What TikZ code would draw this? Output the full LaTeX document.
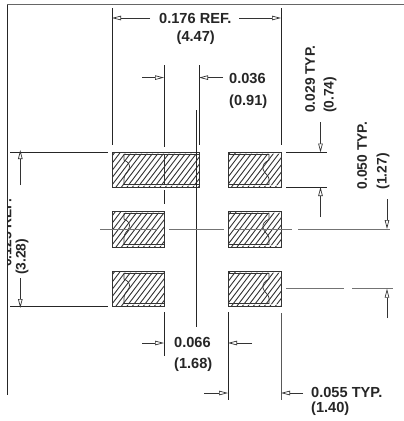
\documentclass[tikz,border=0pt]{standalone}
\usepackage{fontspec}
\usetikzlibrary{arrows.meta}
\newfontfamily\dimfont[BoldFont={Liberation Sans Bold}]{Liberation Sans}
\tikzset{
  ln/.style={line width=0.8pt,black!85},
  glne/.style={line width=0.9pt,black!55},
  dimline/.style={line width=0.7pt,black!80,-{Triangle[open,fill=white,length=9pt,width=4.5pt]}},
  txt/.style={font=\dimfont\bfseries\fontsize{14.6}{15}\selectfont,inner sep=0pt,text=black!85,anchor=west},
  rtxt/.style={font=\dimfont\bfseries\fontsize{13.8}{14}\selectfont,inner sep=0pt,text=black!85,rotate=90,anchor=west},
  hatchline/.style={line width=0.9pt,black!80}
}
\newcommand{\padbox}[5]{%
  \begin{scope}
    \clip (#1,#2) rectangle (#3,#4);
    \foreach \k in {-60,-54.5,...,360}{
      \draw[hatchline] (\k,#4) -- ++(38,-50);
    }
  \end{scope}
  \draw[line width=0.9pt,black!80] (#1,#2) rectangle (#3,#4);
  \fill[white,opacity=0.7] (#1+12,#2+0.6) rectangle (#3-0.5,#2+1.8);
  \fill[white,opacity=0.7] (#1+12,#4-2) rectangle (#3-0.5,#4-0.6);
  #5
}
\newcommand{\leftinner}[3]{%
  \draw[line width=0.7pt,black!80] (#1,#2+2.5) -- (124,#2+2.5) -- (124,#2+8)
    .. controls (128,#2+10) and (131,#2+13) .. (129,#2+17)
    .. controls (127,#2+21) and (124,#2+22) .. (124,#2+27)
    -- (124,#3-2.5) -- (#1,#3-2.5);
}
\newcommand{\rightinner}[3]{%
  \draw[line width=0.7pt,black!80] (#1,#2+2.5) -- (269,#2+2.5) -- (269,#2+8)
    .. controls (265,#2+10) and (262,#2+13) .. (263,#2+17)
    .. controls (264,#2+21) and (269,#2+24) .. (269,#2+27)
    -- (269,#3-2.5) -- (#1,#3-2.5);
}
\begin{document}
\begin{tikzpicture}[x=1pt,y=-1pt]
\useasboundingbox (0,0) rectangle (404,421);
\fill[white] (0,0) rectangle (404,421);
\draw[line width=1pt,black!60] (7,4.5) -- (404,4.5);
\draw[line width=0.8pt,black!85] (7,4.5) -- (7,395);
\padbox{112}{152}{199}{187}{\leftinner{199}{152}{187}}
\padbox{112}{211}{164}{247}{\leftinner{164}{211}{247}}
\padbox{112}{271}{164}{306}{\leftinner{164}{271}{306}}
\padbox{228}{152}{281}{187}{\rightinner{228}{152}{187}}
\padbox{228}{211}{281}{247}{\rightinner{228}{211}{247}}
\padbox{228}{271}{281}{306}{\rightinner{228}{271}{306}}
\draw[line width=0.8pt,black!80] (164,154) -- (164,185);
\draw[ln] (112,8) -- (112,145);
\draw[ln] (281,8) -- (281,145);
\draw[ln] (164,65) -- (164,147) (164,190) -- (164,204) (164,312) -- (164,356);
\draw[ln] (199,65) -- (199,145);
\draw[ln] (196.5,110) -- (196.5,327);
\draw[ln] (228,312) -- (228,400);
\draw[line width=0.8pt,black!65] (281,313) -- (281,400);
\draw[ln] (10,152.5) -- (108,152.5);
\draw[ln] (10,306) -- (108,306);
\draw[ln] (286,152.5) -- (327,152.5);
\draw[ln] (286,187) -- (327,187);
\draw[glne] (100,229) -- (157,229) (169,229) -- (224,229) (233,229) -- (292,229) (298,229) -- (390,229);
\draw[glne] (286,288.7) -- (344,288.7) (352,288.7) -- (393,288.7);
\draw[dimline] (150,18) -- (112,18);
\draw[dimline] (239,18) -- (281,18);
\draw[dimline] (142,77.6) -- (164,77.6);
\draw[dimline] (223,77.6) -- (199,77.6);
\draw[dimline] (142,343) -- (164,343);
\draw[dimline] (252,343) -- (228,343);
\draw[dimline] (204,393) -- (228,393);
\draw[dimline] (303,393) -- (281,393);
\draw[dimline] (20.3,185) -- (20.3,150);
\draw[dimline] (20.3,278) -- (20.3,308);
\draw[dimline] (320.5,122) -- (320.5,152.5);
\draw[dimline] (320.5,217) -- (320.5,187);
\draw[dimline] (387,199) -- (387,229);
\draw[dimline] (387,318) -- (387,288.7);
\node[txt] (t1) at (159,18) {0.176 REF.};
\node[txt] (t2) at (176.5,38) {(4.47)};
\node[txt] (t3) at (229,78.5) {0.036};
\node[txt] (t4) at (229,102) {(0.91)};
\node[txt] (t5) at (174,342) {0.066};
\node[txt] (t6) at (174,364.5) {(1.68)};
\node[txt] (t7) at (311,392.5) {0.055 TYP.};
\node[txt] (t8) at (311,409) {(1.40)};
\node[rtxt] (t9) at (310,113) {0.029 TYP.};
\node[rtxt] (t10) at (330,113) {(0.74)};
\node[rtxt] (t11) at (362,189.5) {0.050 TYP.};
\node[rtxt] (t12) at (383,189.5) {(1.27)};
\node[rtxt] (t13) at (22,275) {(3.28)};
\begin{scope}
\clip (7.4,150) rectangle (20,290);
\node[rtxt] (t14) at (6.5,267) {0.125 REF.};
\end{scope}
\end{tikzpicture}
\end{document}
